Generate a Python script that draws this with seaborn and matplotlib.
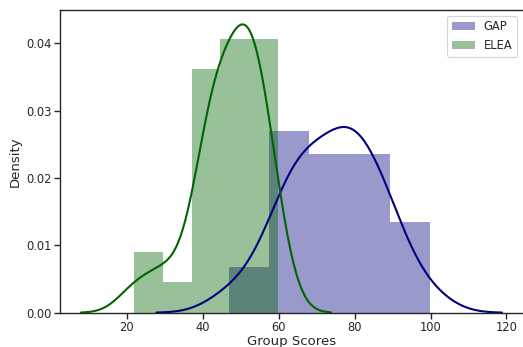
import matplotlib
matplotlib.use("Agg")
import matplotlib.pyplot as plt
import seaborn as sns
import numpy as np
import pandas as pd
from matplotlib.patches import Patch

gap_scores = [46.8, 54.5,
              58.5, 60.5, 62.0, 63.5, 65.0, 66.0, 67.0, 67.9,
              70.0, 71.8, 73.3, 74.8, 76.0, 77.0, 78.2,
              79.0, 80.0, 81.2, 82.4, 83.6, 85.0, 86.8,
              89.5, 90.2, 91.5, 99.8]
elea_scores = [21.8, 28.0,
               32.0,
               38.5, 39.5, 40.5, 41.5, 42.5, 43.0, 43.8, 44.5,
               45.5, 46.5, 47.5, 48.5, 49.5, 50.5, 51.0, 51.5, 52.2,
               52.5, 53.0, 53.5, 54.5, 55.5, 56.5, 57.5, 58.5, 59.9]
series_labels = ["GAP", "ELEA"]
series_colors = ["navy", "darkgreen"]
y_ticks = [0.00, 0.01, 0.02, 0.03, 0.04]
x_ticks = [20, 40, 60, 80, 100, 120]

sns.set_theme(style="ticks", context="paper")
plt.rcParams.update({
    "xtick.labelsize": 8.3, "ytick.labelsize": 8.3,
    "axes.labelsize": 9.5, "legend.fontsize": 8.3,
    "xtick.major.size": 4.0, "ytick.major.size": 4.0,
    "xtick.major.pad": 2.0, "ytick.major.pad": 2.0,
})

fig = plt.figure(figsize=(5.23, 3.47), dpi=100)
ax = fig.add_axes([0.1147, 0.0988, 0.8853, 0.8724])

for scores, lab, col in zip([gap_scores, elea_scores], series_labels, series_colors):
    sns.histplot(x=scores, bins=5, stat="density", kde=True, color=col,
                 alpha=0.4, edgecolor="none", linewidth=0, ax=ax,
                 line_kws=dict(linewidth=1.5), kde_kws=dict(cut=3))
    ax.lines[-1].set_color(col)
    ax.lines[-1].set_alpha(1.0)

ax.set_xlabel("Group Scores", labelpad=1)
ax.set_ylabel("Density", labelpad=3)
ax.set_xticks(x_ticks)
ax.set_yticks(y_ticks)
ax.spines["right"].set_visible(False)

handles = [Patch(facecolor=c, alpha=0.4, edgecolor="none") for c in series_colors]
ax.legend(handles, series_labels, loc="upper right")

fig.savefig("out.png", dpi=100)
